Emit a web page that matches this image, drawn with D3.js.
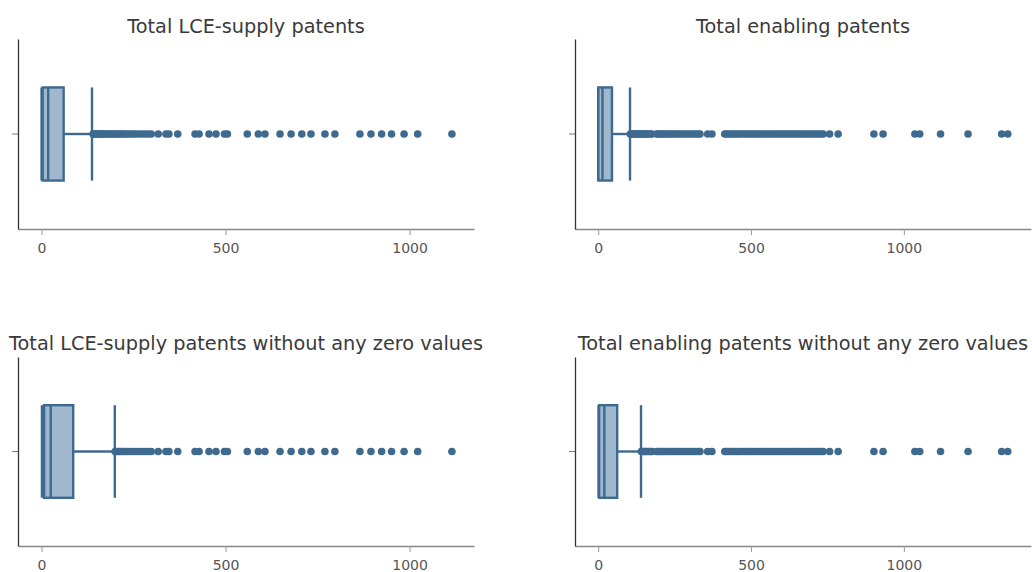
<!DOCTYPE html>
<html>
<head>
<meta charset="utf-8">
<script src="https://cdn.jsdelivr.net/npm/d3@7"></script>
<style>
  body { margin: 0; background: #fff; }
  svg text { font-family: "DejaVu Sans", Verdana, sans-serif; }
</style>
</head>
<body>
<div id="chart"></div>
<script>
const WIDTH = 1032
const HEIGHT = 572

// panel order: top-left, top-right, bottom-left, bottom-right
const titles = [
  'Total LCE-supply patents',
  'Total enabling patents',
  'Total LCE-supply patents without any zero values',
  'Total enabling patents without any zero values'
]
const datasets = ['lce', 'enabling', 'lce', 'enabling']

// box statistics
const whiskerLow = [0, 0, 1, 1]
const q1 = [3, 0.5, 7, 3]
const median = [18, 14, 25, 20]
const q3 = [60, 45, 86, 62]
const whiskerHigh = [137, 104, 199, 140]

// outlier values (estimated)
const lceOutliers = [
  140, 142, 145, 148, 151, 155, 158, 162, 166, 170, 175, 179, 184, 189, 194,
  200, 204, 209, 213, 218, 224, 229, 236, 243, 251, 258, 266, 274, 283, 290,
  298, 317, 338, 346, 370, 417, 428, 455, 474, 497, 505, 559, 589, 607, 648,
  678, 707, 732, 770, 797, 865, 895, 924, 951, 985, 1022, 1115
]
const enablingOutliers = [
  105, 107, 110, 113, 116, 119, 122, 126, 129, 133, 137, 141, 145, 150, 155,
  160, 166, 171, 176, 191, 196, 202, 208, 214, 220, 227, 234, 241, 248, 255,
  262, 270, 278, 286, 294, 302, 311, 319, 327, 333, 358, 372, 414, 419, 426,
  433, 441, 448, 456, 462, 470, 479, 486, 494, 501, 509, 517, 524, 533, 540,
  548, 556, 563, 571, 580, 587, 595, 603, 611, 618, 626, 634, 641, 650, 657,
  665, 673, 681, 690, 697, 705, 713, 721, 728, 736, 757, 785, 902, 932, 1036,
  1052, 1120, 1210, 1320, 1340
]
const xTicks = [0, 500, 1000]
const xDomains = { lce: [-64, 1175], enabling: [-76, 1416] }

const outliers = { lce: lceOutliers, enabling: enablingOutliers }

const STROKE = '#3e6a8f'
const FILL = '#9fb8cd'

// panel frames in pixels
const frames = [
  { x0: 18, x1: 474, y0: 39, y1: 229, ty: 33 },
  { x0: 575, x1: 1031, y0: 39, y1: 229, ty: 33 },
  { x0: 18, x1: 474, y0: 357, y1: 546, ty: 350 },
  { x0: 575, x1: 1031, y0: 357, y1: 546, ty: 350 }
]

const svg = d3.select('#chart')
  .append('svg')
  .attr('width', WIDTH)
  .attr('height', HEIGHT)

frames.forEach((f, i) => {
  const key = datasets[i]
  const x = d3.scaleLinear().domain(xDomains[key]).range([f.x0, f.x1])
  const y = d3.scaleBand().domain(['']).range([f.y0, f.y1]).padding(0)
  const cy = y('') + y.bandwidth() / 2
  const boxH = y.bandwidth() * 0.49
  const capH = y.bandwidth() * 0.245

  const g = svg.append('g').attr('class', 'panel')

  // title
  g.append('text')
    .attr('x', (f.x0 + f.x1) / 2)
    .attr('y', f.ty)
    .attr('text-anchor', 'middle')
    .attr('font-size', 19.3)
    .attr('fill', '#3a3a3a')
    .text(titles[i])

  // x axis
  const xAxis = g.append('g')
    .attr('transform', `translate(0,${f.y1})`)
    .call(d3.axisBottom(x)
      .tickValues(xTicks)
      .tickFormat(d3.format('d'))
      .tickSize(6)
      .tickSizeOuter(0)
      .tickPadding(8))
  xAxis.select('.domain').attr('stroke', '#888').attr('stroke-width', 1.5)
  xAxis.selectAll('.tick line').attr('stroke', '#999')
  xAxis.selectAll('.tick text')
    .attr('fill', '#555')
    .attr('font-size', 14)
    .attr('font-family', '"DejaVu Sans", Verdana, sans-serif')

  // y axis (single unlabeled tick)
  const yAxis = g.append('g')
    .attr('transform', `translate(${f.x0},0)`)
    .call(d3.axisLeft(y).tickSize(6).tickSizeOuter(0))
  yAxis.select('.domain').attr('stroke', '#333').attr('stroke-width', 1.3)
  yAxis.selectAll('.tick line').attr('stroke', '#777')
  yAxis.selectAll('.tick text').remove()

  // whiskers
  g.append('line')
    .attr('x1', x(whiskerLow[i])).attr('x2', x(q1[i]))
    .attr('y1', cy).attr('y2', cy)
    .attr('stroke', STROKE).attr('stroke-width', 2.4)
  g.append('line')
    .attr('x1', x(q3[i])).attr('x2', x(whiskerHigh[i]))
    .attr('y1', cy).attr('y2', cy)
    .attr('stroke', STROKE).attr('stroke-width', 2.4)
  g.selectAll('.cap')
    .data([whiskerLow[i], whiskerHigh[i]])
    .enter()
    .append('line')
    .attr('class', 'cap')
    .attr('x1', d => x(d)).attr('x2', d => x(d))
    .attr('y1', cy - capH).attr('y2', cy + capH)
    .attr('stroke', STROKE).attr('stroke-width', 2.4)

  // box
  g.append('rect')
    .attr('x', x(q1[i]))
    .attr('width', x(q3[i]) - x(q1[i]))
    .attr('y', cy - boxH / 2)
    .attr('height', boxH)
    .attr('fill', FILL)
    .attr('stroke', STROKE)
    .attr('stroke-width', 2.4)
  g.append('line')
    .attr('x1', x(median[i])).attr('x2', x(median[i]))
    .attr('y1', cy - boxH / 2).attr('y2', cy + boxH / 2)
    .attr('stroke', STROKE).attr('stroke-width', 2.4)

  // outliers
  g.selectAll('.outlier')
    .data(outliers[key].filter(v => v > whiskerHigh[i]))
    .enter()
    .append('circle')
    .attr('class', 'outlier')
    .attr('cx', d => x(d))
    .attr('cy', cy)
    .attr('r', 3.8)
    .attr('fill', STROKE)
})
</script>
</body>
</html>
